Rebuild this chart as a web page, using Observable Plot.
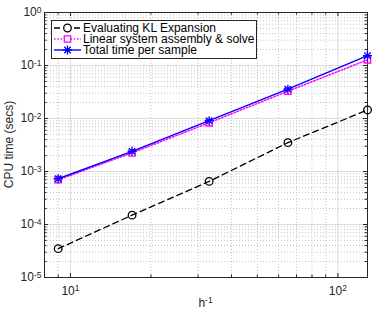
<!DOCTYPE html>
<html>
<head>
<meta charset="utf-8">
<script src="https://cdn.jsdelivr.net/npm/d3@7"></script>
<script src="https://cdn.jsdelivr.net/npm/@observablehq/plot@0.6"></script>
<style>
  html, body { margin: 0; padding: 0; background: #fff; }
  #chart svg { display: block; }
</style>
</head>
<body>
<div id="chart"></div>
<script>
// ---- data ----
const hInv = [9, 17, 33, 65, 129];
const klTime = [3.5e-5, 1.5e-4, 6.5e-4, 3.5e-3, 1.45e-2];
const linTime = [7.0e-4, 2.25e-3, 8.3e-3, 3.27e-2, 0.128];
const totalTime = [7.3e-4, 2.4e-3, 9.1e-3, 3.57e-2, 0.153];

const seriesNames = ["Evaluating KL Expansion", "Linear system assembly & solve", "Total time per sample"];

const xMajorTicks = [10, 100];
const xMinorTicks = [8, 9, 20, 30, 40, 50, 60, 70, 80, 90];
const yMajorTicks = [1e-5, 1e-4, 1e-3, 1e-2, 1e-1, 1];
const yMinorMultipliers = [2, 3, 4, 5, 6, 7, 8, 9];
const yMinorTicks = yMajorTicks.slice(0, -1).flatMap(d => yMinorMultipliers.map(m => m * d));

const kl = hInv.map((h, i) => ({h, t: klTime[i]}));
const lin = hInv.map((h, i) => ({h, t: linTime[i]}));
const tot = hInv.map((h, i) => ({h, t: totalTime[i]}));

// ---- layout ----
const W = 374, H = 318;
const mL = 44, mR = 7, mT = 12, mB = 41;
const plotW = W - mL - mR, plotH = H - mT - mB;
const axisColor = "#262626";
const majLen = 4, minLen = 2.5;

const pow = d => "10^" + Math.round(Math.log10(d));

const chart = Plot.plot({
  width: W, height: H,
  marginLeft: mL, marginRight: mR, marginTop: mT, marginBottom: mB,
  style: {fontFamily: "'Liberation Sans', Arial, Helvetica, sans-serif", fontSize: "12px", color: axisColor, background: "#fff"},
  x: {type: "log", domain: [8, 129], axis: null},
  y: {type: "log", domain: [1e-5, 1], axis: null},
  marks: [
    // grid
    Plot.ruleX(xMinorTicks, {stroke: "#c4c4c4", strokeDasharray: "1,2"}),
    Plot.ruleY(yMinorTicks, {stroke: "#c4c4c4", strokeDasharray: "1,2"}),
    Plot.ruleX(xMajorTicks, {stroke: "#dcdcdc"}),
    Plot.ruleY(yMajorTicks.slice(1, -1), {stroke: "#dcdcdc"}),
    // inward ticks
    Plot.ruleX(xMajorTicks, {stroke: axisColor, insetTop: plotH - majLen}),
    Plot.ruleX(xMajorTicks, {stroke: axisColor, insetBottom: plotH - majLen}),
    Plot.ruleX(xMinorTicks, {stroke: axisColor, insetTop: plotH - minLen}),
    Plot.ruleX(xMinorTicks, {stroke: axisColor, insetBottom: plotH - minLen}),
    Plot.ruleY(yMajorTicks, {stroke: axisColor, insetRight: plotW - majLen}),
    Plot.ruleY(yMajorTicks, {stroke: axisColor, insetLeft: plotW - majLen}),
    Plot.ruleY(yMinorTicks, {stroke: axisColor, insetRight: plotW - minLen}),
    Plot.ruleY(yMinorTicks, {stroke: axisColor, insetLeft: plotW - minLen}),
    Plot.frame({stroke: axisColor}),
    // axes labels
    Plot.axisX({ticks: xMajorTicks, tickSize: 0, tickPadding: 9, tickFormat: pow, label: null, fill: axisColor}),
    Plot.axisY({ticks: yMajorTicks, tickSize: 0, tickPadding: 3, tickFormat: pow, label: null, fill: axisColor}),
    // series
    Plot.line(kl, {x: "h", y: "t", stroke: "#000", strokeWidth: 1.3, strokeDasharray: "6,4"}),
    Plot.dot(kl, {x: "h", y: "t", symbol: "circle", r: 3.8, stroke: "#000", strokeWidth: 1.3, fill: "none"}),
    Plot.line(lin, {x: "h", y: "t", stroke: "#ff00ff", strokeWidth: 1.5, strokeDasharray: "1.5,1.8"}),
    Plot.dot(lin, {x: "h", y: "t", symbol: "square", r: 3.6, stroke: "#ff00ff", strokeWidth: 1.3, fill: "none"}),
    Plot.line(tot, {x: "h", y: "t", stroke: "#0000ff", strokeWidth: 1.4}),
    Plot.dot(tot, {x: "h", y: "t", symbol: "plus", r: 3.0, stroke: "#0000ff", strokeWidth: 1.3}),
    Plot.dot(tot, {x: "h", y: "t", symbol: "times", r: 3.0, stroke: "#0000ff", strokeWidth: 1.3})
  ]
});

const svg = d3.select(chart);

// axis titles
svg.append("text")
  .attr("transform", `translate(13,${mT + plotH / 2}) rotate(-90)`)
  .attr("text-anchor", "middle").attr("fill", axisColor)
  .attr("font-size", 12).text("CPU time (secs)");
svg.append("text")
  .attr("x", mL + plotW / 2).attr("y", 307)
  .attr("text-anchor", "middle").attr("fill", axisColor)
  .attr("font-size", 12).text("h^-1");

// legend
const lg = svg.append("g");
lg.append("rect").attr("x", 51.5).attr("y", 20.5).attr("width", 205).attr("height", 38)
  .attr("fill", "#fff").attr("stroke", axisColor);
const legendStyles = [
  {stroke: "#000", dash: "6,4", sym: d3.symbolCircle, sw: 1.3},
  {stroke: "#ff00ff", dash: "1.5,1.8", sym: d3.symbolSquare, sw: 1.5},
  {stroke: "#0000ff", dash: null, sym: null, sw: 1.4}
];
seriesNames.forEach((name, i) => {
  const y = 28 + i * 11;
  const s = legendStyles[i];
  lg.append("line").attr("x1", 54).attr("x2", 81).attr("y1", y).attr("y2", y)
    .attr("stroke", s.stroke).attr("stroke-width", s.sw)
    .attr("stroke-dasharray", s.dash);
  const g = lg.append("g").attr("transform", `translate(67.5,${y})`)
    .attr("fill", "none").attr("stroke", s.stroke).attr("stroke-width", 1.3);
  if (s.sym) {
    g.append("path").attr("d", d3.symbol(s.sym, i === 0 ? Math.PI * 3.8 * 3.8 : Math.PI * 3.6 * 3.6)())
      .attr("fill", "#fff");
  } else {
    g.append("path").attr("d", d3.symbol(d3.symbolPlus, Math.PI * 9)());
    g.append("path").attr("d", d3.symbol(d3.symbolTimes, Math.PI * 9)());
  }
  lg.append("text").attr("x", 83).attr("y", y).attr("dy", "0.35em")
    .attr("text-anchor", "start")
    .attr("font-size", 12).attr("fill", "#000").text(name);
});

// superscripts
chart.querySelectorAll("text, tspan").forEach(el => {
  if (el.children.length) return;
  const s = el.textContent;
  const k = s.indexOf("^");
  if (k < 0) return;
  el.textContent = s.slice(0, k);
  const sup = document.createElementNS("http://www.w3.org/2000/svg", "tspan");
  sup.setAttribute("dy", "-0.45em");
  sup.setAttribute("font-size", "8.5");
  sup.textContent = s.slice(k + 1);
  el.appendChild(sup);
});

document.getElementById("chart").appendChild(chart);
</script>
</body>
</html>
